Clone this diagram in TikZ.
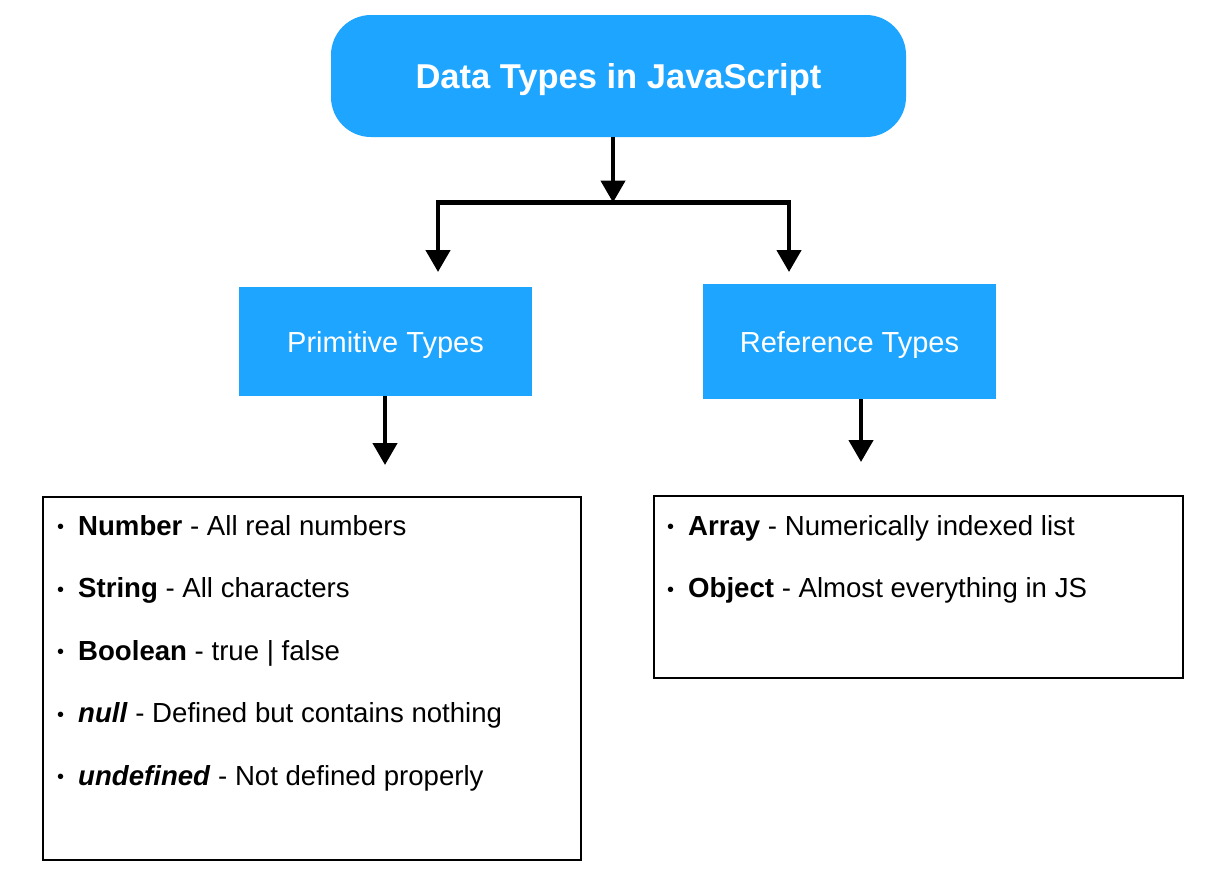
\documentclass[tikz,border=0pt]{standalone}
\usepackage{fontspec}
\setmainfont{Liberation Sans}
\usetikzlibrary{arrows.meta}
\definecolor{jsblue}{RGB}{30,165,255}
\newcommand{\bul}{\makebox[21pt][l]{\fontsize{20}{20}\selectfont\raisebox{1.5pt}{•}}}
\begin{document}
\begin{tikzpicture}[x=1pt,y=-1pt,
  conn/.style={line width=4.5pt,draw=black},
  arr/.style={conn,-{Triangle[width=24pt,length=22pt]}},
  bluebox/.style={fill=jsblue,draw=none,inner sep=0pt,text=white},
  listbox/.style={draw=black,line width=1.2pt,fill=white,inner sep=0pt},
  item/.style={anchor=base west,inner sep=0pt,font=\fontsize{27.6}{32}\selectfont}
]
\useasboundingbox[fill=white] (0,0) rectangle (1230,873);

% top box
\node[bluebox,rounded corners=40pt,minimum width=575pt,minimum height=122pt,
      text height=24pt,text depth=0pt,font=\fontsize{34.5}{40}\selectfont\bfseries]
      (title) at (618.5,76) {Data Types in JavaScript};

% second level
\node[bluebox,minimum width=293pt,minimum height=109pt,
      text height=21pt,text depth=0pt,font=\fontsize{29}{34}\selectfont]
      (prim) at (385.5,341.5) {Primitive Types};
\node[bluebox,minimum width=293pt,minimum height=115pt,
      text height=21pt,text depth=0pt,font=\fontsize{29}{34}\selectfont]
      (ref) at (849.5,341.5) {Reference Types};

% list boxes
\node[listbox,minimum width=538pt,minimum height=363pt] (plist) at (312,678.5) {};
\node[listbox,minimum width=529pt,minimum height=182pt] (rlist) at (918.5,587) {};

% list items
\node[item] (p1) at (57,535)   {\bul\textbf{Number} - All real numbers};
\node[item] (p2) at (57,597.5) {\bul\textbf{String} - All characters};
\node[item] (p3) at (57,660)   {\bul\textbf{Boolean} - true | false};
\node[item] (p4) at (57,722.5) {\bul\textbf{\textit{null}} - Defined but contains nothing};
\node[item] (p5) at (57,785)   {\bul\textbf{\textit{undefined}} - Not defined properly};

\node[item] (r1) at (667,535)   {\bul\textbf{Array} - Numerically indexed list};
\node[item] (r2) at (667,597.5) {\bul\textbf{Object} - Almost everything in JS};

% connectors
\coordinate (j)  at (613,202.5);
\coordinate (jl) at (438,202.5);
\coordinate (jr) at (789,202.5);
\coordinate (tl) at (438,272);
\coordinate (tr) at (789,272);
\coordinate (tp) at (385,465);
\coordinate (tq) at (861,462);

\draw[arr] (title.south -| j) -- (j);
\draw[conn] ([xshift=-2.25pt]jl) -- ([xshift=2.25pt]jr);
\draw[arr] (jl) -- (tl);
\draw[arr] (jr) -- (tr);
\draw[arr] (prim.south -| tp) -- (tp);
\draw[arr] (ref.south -| tq) -- (tq);
\end{tikzpicture}
\end{document}
